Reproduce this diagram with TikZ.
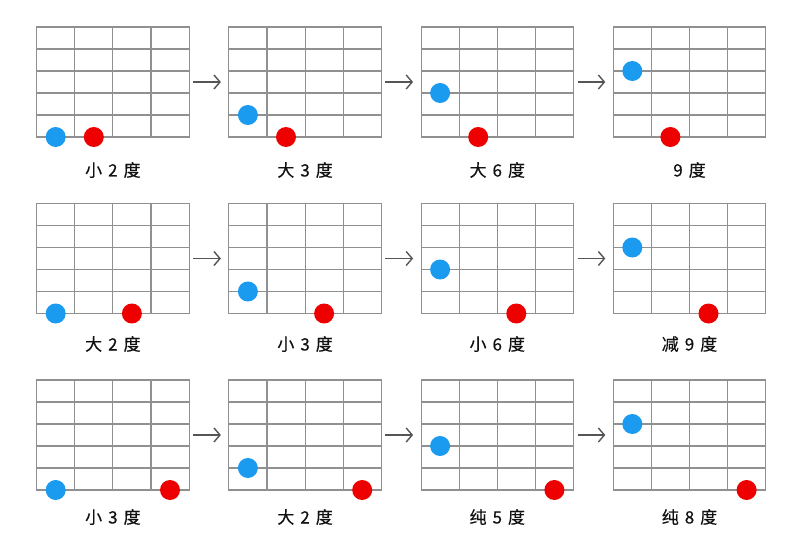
\documentclass[tikz,border=0pt]{standalone}
\usepackage{fontspec}
\newfontfamily\cjk{Noto Sans CJK SC}[FakeBold=0.4]
\usetikzlibrary{arrows.meta}
\definecolor{gridgray}{HTML}{909090}
\definecolor{dotblue}{HTML}{1A9BF0}
\definecolor{dotred}{HTML}{EE0000}
\definecolor{arrowgray}{HTML}{555555}
\definecolor{labelcol}{HTML}{111111}
\tikzset{
  board/.style={draw=gridgray, line width=1.1pt, minimum width=152.4pt, minimum height=110pt, inner sep=0pt, outer sep=0pt},
  fret/.style={draw=gridgray, line width=1.1pt},
  bluedot/.style={circle, fill=dotblue, minimum size=20pt, inner sep=0pt},
  reddot/.style={circle, fill=dotred, minimum size=20pt, inner sep=0pt},
  lbl/.style={font=\cjk\fontsize{17pt}{20pt}\selectfont, execute at begin node={\spaceskip=6pt\relax}, text=labelcol, inner sep=0pt},
  flow/.style={draw=arrowgray, line width=1.4pt, shorten <=4pt, shorten >=8pt, -{Straight Barb[length=6pt,width=14pt,line width=1.4pt]}}
}
% #1 name, #2 left, #3 top, #4 blue string (0 = bottom), #5 red column, #6 label y, #7 label
\newcommand\fretboard[7]{%
  \node[board, anchor=north west] (#1) at (#2,#3) {};
  \foreach \i in {1,2,3} \draw[fret] ({#2+38.1*\i},#3) -- ({#2+38.1*\i},{#3+110});
  \foreach \j in {1,...,4} \draw[fret] (#2,{#3+22*\j}) -- ({#2+152.4},{#3+22*\j});
  \node[bluedot] (#1b) at ({#2+19},{#3+110-22*#4}) {};
  \node[reddot] (#1r) at ({#2+19+38.1*(#5-1)},{#3+110}) {};
  \node[lbl] (#1t) at ({#2+76.2},#6) {#7};
}
\begin{document}
\begin{tikzpicture}[x=1pt,y=-1pt]
\useasboundingbox (0,0) rectangle (809,546);
\fill[white] (0,0) rectangle (809,546);
% row 1
\fretboard{g11}{36.7}{27}{0}{2}{170}{小 2 度}
\fretboard{g12}{228.9}{27}{1}{2}{170}{大 3 度}
\fretboard{g13}{421.1}{27}{2}{2}{170}{大 6 度}
\fretboard{g14}{613.3}{27}{3}{2}{170}{9 度}
% row 2
\fretboard{g21}{36.7}{203.5}{0}{3}{344}{大 2 度}
\fretboard{g22}{228.9}{203.5}{1}{3}{344}{小 3 度}
\fretboard{g23}{421.1}{203.5}{2}{3}{344}{小 6 度}
\fretboard{g24}{613.3}{203.5}{3}{3}{344}{减 9 度}
% row 3
\fretboard{g31}{36.7}{380}{0}{4}{517}{小 3 度}
\fretboard{g32}{228.9}{380}{1}{4}{517}{大 2 度}
\fretboard{g33}{421.1}{380}{2}{4}{517}{纯 5 度}
\fretboard{g34}{613.3}{380}{3}{4}{517}{纯 8 度}
% arrows
\foreach \r in {1,2,3}{
  \draw[flow] (g\r1.east) -- (g\r2.west);
  \draw[flow] (g\r2.east) -- (g\r3.west);
  \draw[flow] (g\r3.east) -- (g\r4.west);
}
\end{tikzpicture}
\end{document}
